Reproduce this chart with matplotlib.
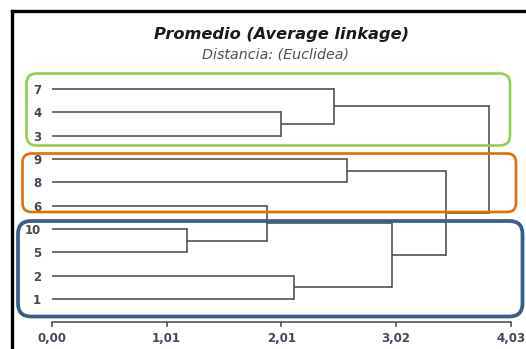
import matplotlib
matplotlib.use("Agg")
import matplotlib.pyplot as plt
from matplotlib.patches import FancyBboxPatch

# ---- data ----
leaf_labels = ['7', '4', '3', '9', '8', '6', '10', '5', '2', '1']
# merges: indices 0..9 are leaves (display order), 10+ are new clusters
merge_a = [6, 5, 1, 8, 0, 3, 11, 15, 14]
merge_b = [7, 10, 2, 9, 12, 4, 13, 16, 17]
merge_height = [1.19, 1.89, 2.01, 2.13, 2.48, 2.59, 2.99, 3.46, 3.84]
tick_values = [0.0, 1.0075, 2.015, 3.0225, 4.03]
tick_labels = ['0,00', '1,01', '2,01', '3,02', '4,03']
title = 'Promedio (Average linkage)'
subtitle = 'Distancia: (Euclidea)'

W, H = 526, 349
fig = plt.figure(figsize=(W / 100, H / 100), dpi=100)
fig.patch.set_facecolor('white')

# main dendrogram axes, positioned in pixels
x0px, x1px = 51.7, 511.0
ytop_px, ybot_px = 60.0, 322.0
leaf0_px, leaf_sp = 89.0, 23.333
ax = fig.add_axes([x0px / W, (H - ybot_px) / H, (x1px - x0px) / W, (ybot_px - ytop_px) / H])
ax.set_xlim(0, 4.03)
ax.set_ylim((ybot_px - leaf0_px) / leaf_sp, (ytop_px - leaf0_px) / leaf_sp)
ax.patch.set_alpha(0)

lc = '#454545'
nodes = {i: (0.0, float(i)) for i in range(len(leaf_labels))}
for k, (a, b, h) in enumerate(zip(merge_a, merge_b, merge_height)):
    xa, ya = nodes[a]
    xb, yb = nodes[b]
    ax.plot([xa, h], [ya, ya], color=lc, lw=1.1, solid_capstyle='butt')
    ax.plot([xb, h], [yb, yb], color=lc, lw=1.1, solid_capstyle='butt')
    ax.plot([h, h], [ya, yb], color=lc, lw=1.1, solid_capstyle='projecting')
    nodes[len(leaf_labels) + k] = (h, (ya + yb) / 2)

txt_col = '#4a4458'
for s in ['top', 'right', 'left']:
    ax.spines[s].set_visible(False)
ax.spines['bottom'].set_color(lc)
ax.spines['bottom'].set_linewidth(1.1)
ax.set_xticks(tick_values)
ax.set_xticklabels(tick_labels, fontsize=8.5, color=txt_col, family='DejaVu Sans',
                   fontweight='bold')
ax.tick_params(axis='x', direction='out', length=3.5, width=1.1, color=lc, pad=3.5)
ax.set_yticks(range(len(leaf_labels)))
ax.set_yticklabels(leaf_labels, fontsize=8.5, color=txt_col, family='DejaVu Sans',
                   fontweight='bold')
ax.tick_params(axis='y', length=0, pad=7.5)

# overlay axes in pixel coordinates for frame and boxes
ov = fig.add_axes([0, 0, 1, 1])
ov.set_xlim(0, W)
ov.set_ylim(H, 0)
ov.axis('off')
ov.patch.set_alpha(0)

ov.plot([11.5, 11.5], [H + 5, 10.5], color='black', lw=2.4, solid_capstyle='projecting')
ov.plot([11.5, W + 5], [10.5, 10.5], color='black', lw=2.4, solid_capstyle='projecting')

def rbox(x0, y0, x1, y1, r, color, lw):
    p = FancyBboxPatch((x0, y0), x1 - x0, y1 - y0,
                       boxstyle=f'round,pad=0,rounding_size={r}',
                       fill=False, edgecolor=color, linewidth=lw)
    ov.add_patch(p)

rbox(26.5, 73.5, 510, 145.5, 10, '#92D050', 1.9)
rbox(22.5, 153.5, 516, 212, 9, '#E46C0A', 1.9)
rbox(18, 221, 522.5, 316.5, 13, '#3A5E8C', 2.7)

fig.text(282 / W, 1 - 35 / H, title, ha='center', va='center', fontsize=11.7,
         fontweight='bold', fontstyle='italic', color='#1a1a1a', family='DejaVu Sans')
fig.text(276 / W, 1 - 54.5 / H, subtitle, ha='center', va='center', fontsize=10.3,
         fontstyle='italic', color='#505050', family='DejaVu Sans')

fig.savefig('out.png', dpi=100, facecolor='white')
